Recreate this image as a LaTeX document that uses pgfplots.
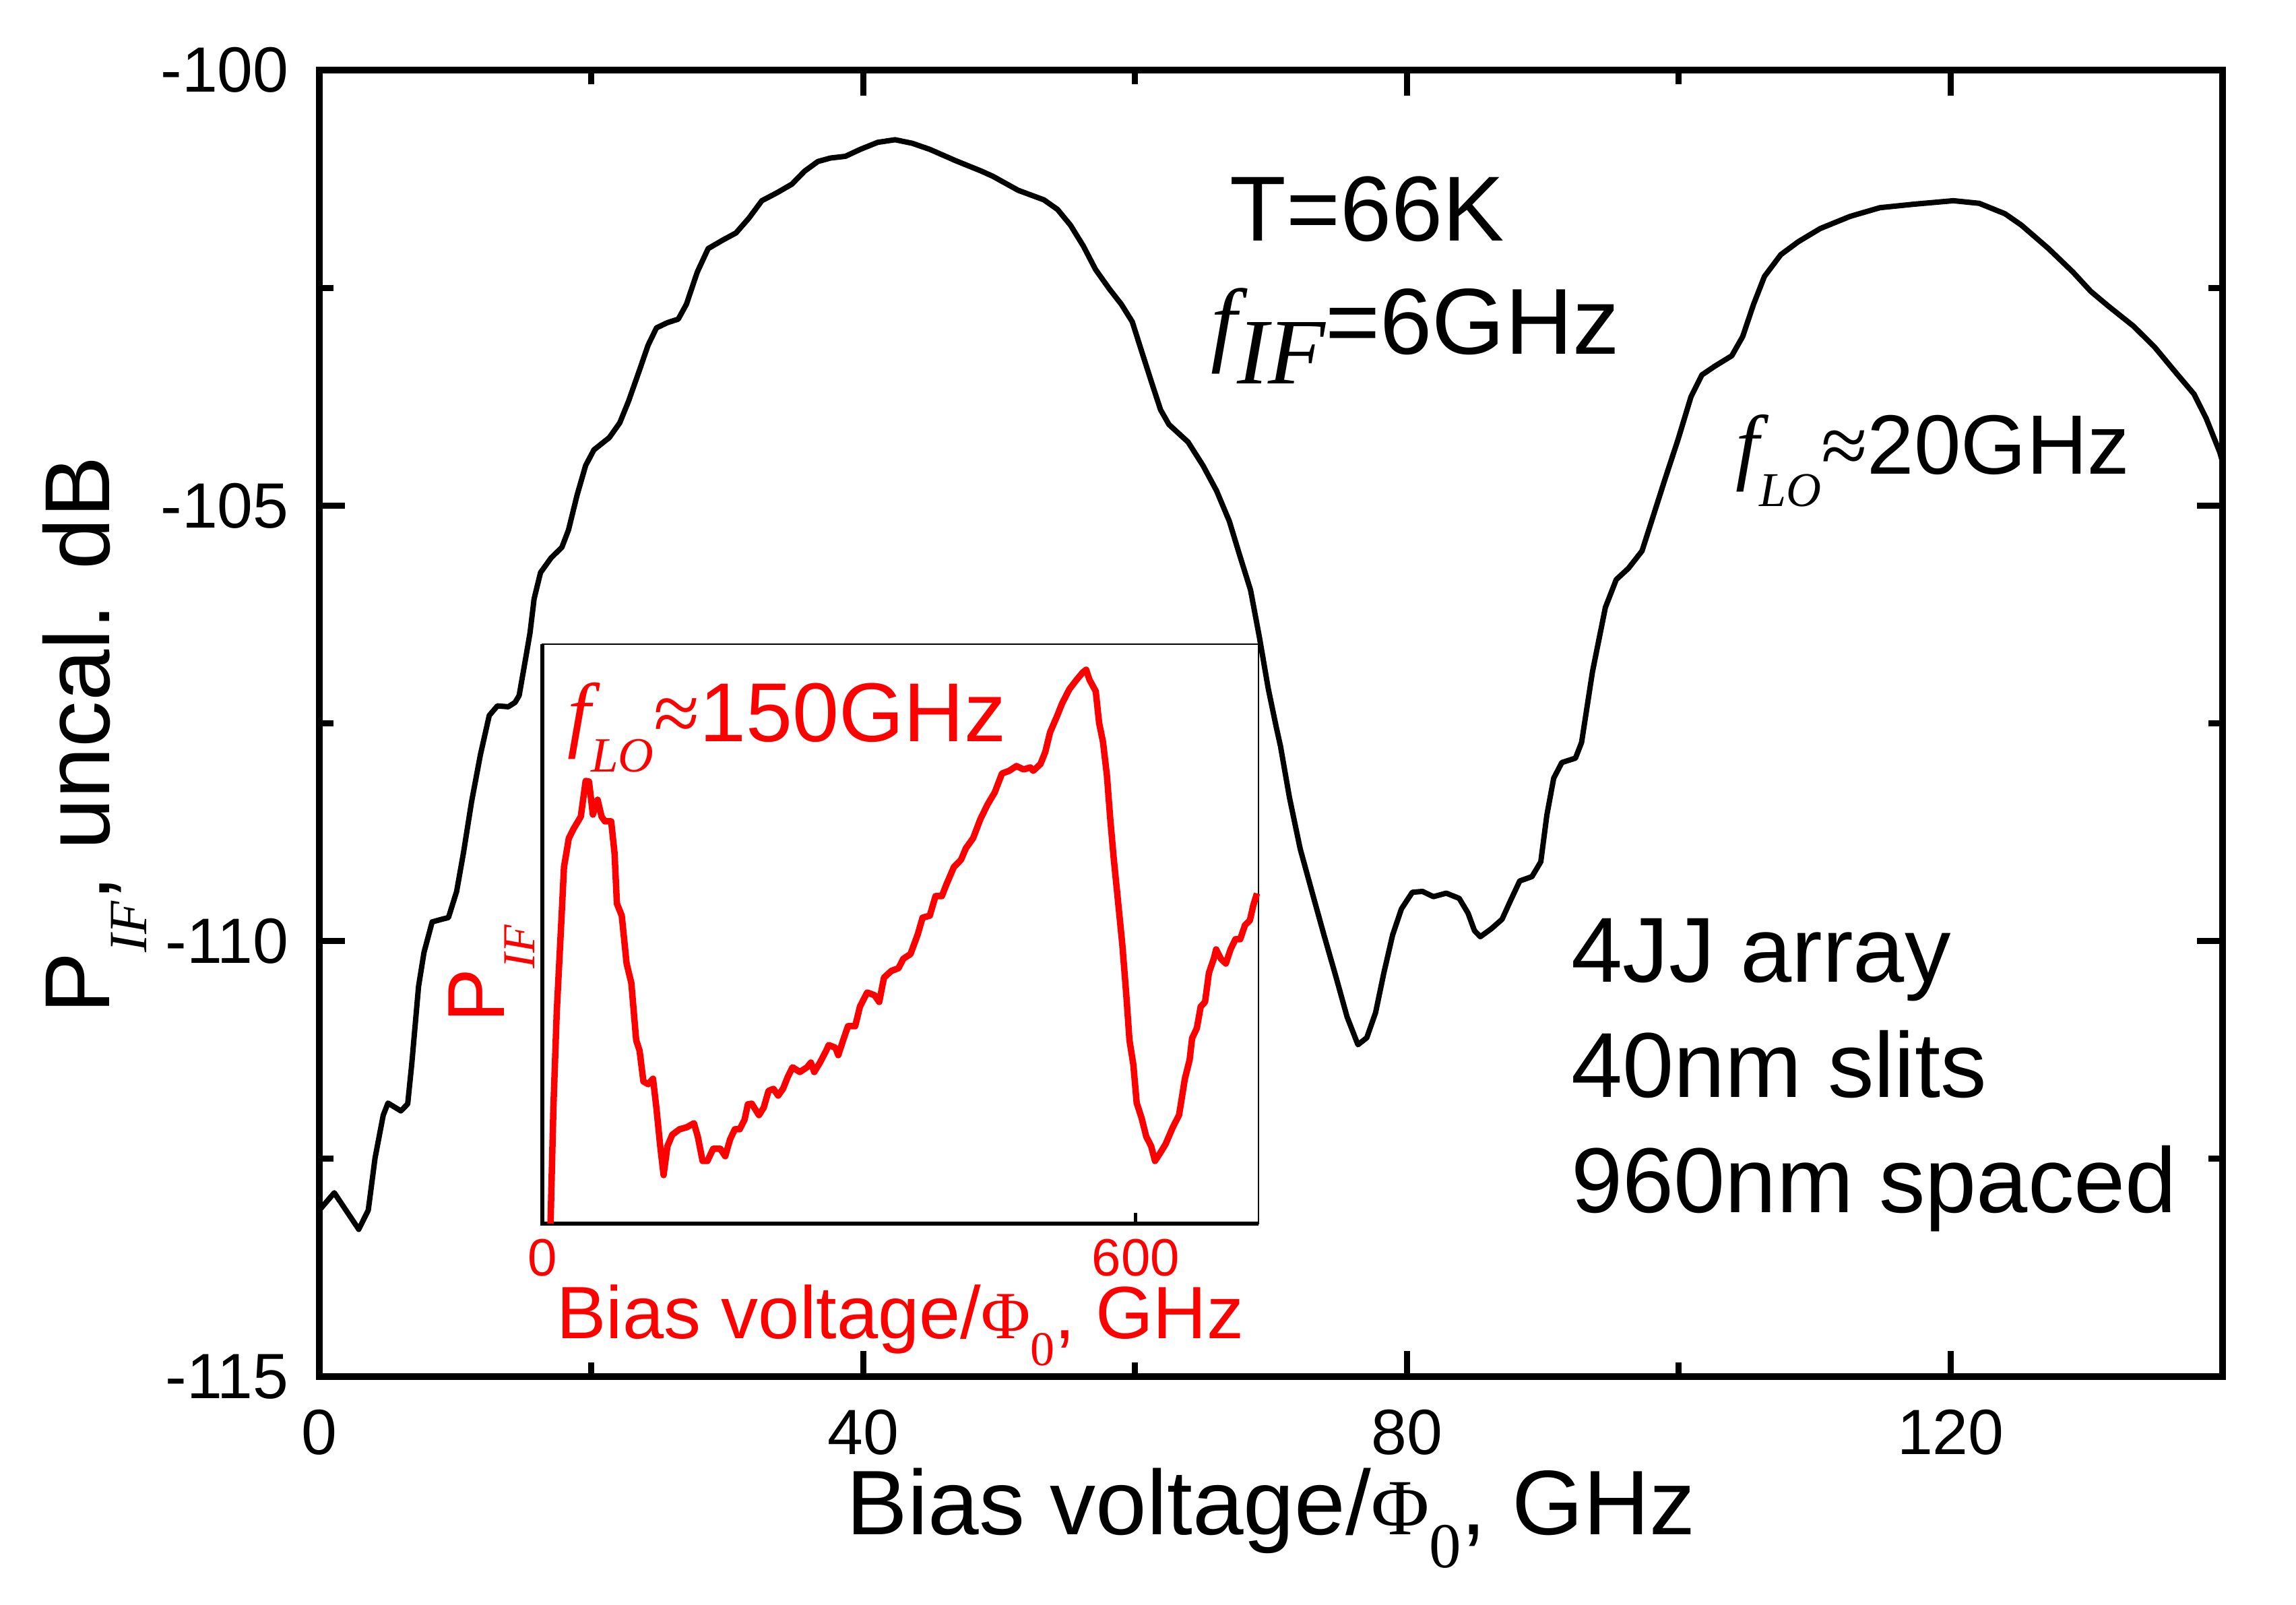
\documentclass[border=0pt]{standalone}
\usepackage{fontspec}
\setmainfont{Liberation Sans}
\newfontfamily\tms{Liberation Serif}
\usepackage{pgfplots}
\pgfplotsset{compat=1.18}
\newcommand{\fs}[1]{\fontsize{#1}{#1}\selectfont}

\begin{document}
\begin{tikzpicture}
\begin{axis}[name=main, scale only axis, width=282.5pt, height=193.9pt,
  xmin=0, xmax=140, ymin=-115, ymax=-100,
  xtick={0,40,80,120}, xticklabels={0,40,80,120},
  minor xtick={20,60,100,140},
  ytick={-115,-110,-105,-100}, yticklabels={-115,-110,-105,-100},
  minor ytick={-112.5,-107.5,-102.5},
  major tick length=3.8pt, minor tick length=2.1pt,
  tick style={line width=0.9pt, black},
  axis line style={line width=0.95pt},
  tick label style={font=\fs{9.5}},
  xticklabel shift=1.4pt, yticklabel shift=1.0pt,
  xlabel={Bias voltage/{\tms\fs{11.8}Φ}\raisebox{-4.9pt}{\tms\fs{9.5}0}, GHz},
  ylabel={P\raisebox{-5.5pt}{\tms\itshape\fs{8}IF}, uncal. dB},
  xlabel style={font=\fs{13.6}, at={(axis description cs:0.5,-0.1207)}, anchor=base},
  ylabel style={font=\fs{13.7}, at={(axis description cs:-0.1104,0.491)}, anchor=base},
]
\addplot[black, line width=0.8pt, line join=round] coordinates {
(0,-113.09) (1.1,-112.89) (2.9,-113.31) (3.6,-113.09) (4.1,-112.49) (4.7,-112.0) (5.05,-111.86) (6.0,-111.95) (6.5,-111.87) (6.8,-111.41) (7.3,-110.52) (7.7,-110.13) (8.3,-109.78) (9.0,-109.75) (9.5,-109.73) (10.1,-109.43) (10.6,-108.99) (11.2,-108.40) (11.85,-107.86) (12.5,-107.41) (13.1,-107.30) (13.9,-107.31) (14.4,-107.26)
(14.7,-107.18) (15.17,-106.76) (15.5,-106.46) (15.8,-106.07) (16.27,-105.77) (17.05,-105.6) (17.84,-105.48) (18.33,-105.28) (18.96,-104.88) (19.59,-104.54) (20.2,-104.36) (21.33,-104.22) (22.1,-104.05) (22.75,-103.8) (23.54,-103.45) (24.18,-103.16) (24.8,-102.96) (25.6,-102.9) (26.4,-102.86) (27.0,-102.69) (27.8,-102.32) (28.6,-102.05) (29.7,-101.95) (30.65,-101.87) (31.6,-101.70) (32.55,-101.50) (33.65,-101.41) (34.76,-101.31) (35.7,-101.16) (36.67,-101.05) (37.6,-101.01) (38.7,-100.99) (39.8,-100.91) (41.07,-100.83) (42.35,-100.80) (43.6,-100.84) (44.9,-100.91) (46.8,-101.04) (48.7,-101.16) (49.55,-101.22)
(51.4,-101.38) (53.3,-101.49) (54.3,-101.60) (55.25,-101.78) (56.2,-102.02) (57.1,-102.29) (58.1,-102.51) (59.0,-102.69) (59.8,-102.89) (60.45,-103.21) (61.25,-103.60) (61.88,-103.90) (62.5,-104.07) (63.9,-104.27) (65.0,-104.54) (66.0,-104.83) (66.94,-105.18) (67.7,-105.57) (68.5,-105.97) (69.15,-106.51) (69.8,-107.10) (70.4,-107.55) (70.7,-107.76)
(71.36,-108.35) (72.15,-108.94) (73.1,-109.48) (73.9,-109.93) (74.8,-110.42) (75.6,-110.87) (76.4,-111.19) (77.05,-111.11) (77.7,-110.82) (78.3,-110.37) (78.95,-109.93) (79.6,-109.63) (80.4,-109.44) (81.15,-109.43) (81.95,-109.49) (82.9,-109.45) (83.85,-109.51) (84.5,-109.68) (84.97,-109.88) (85.4,-109.95) (86.2,-109.86) (87.0,-109.75) (87.64,-109.53) (88.3,-109.31) (89.2,-109.26) (89.85,-109.09) (90.3,-108.55) (90.8,-108.13) (91.4,-107.95) (92.4,-107.90) (92.85,-107.72)
(93.65,-106.91) (94.6,-106.17) (95.4,-105.85) (96.3,-105.72) (97.3,-105.52) (98.1,-105.13) (99.0,-104.69) (99.95,-104.24) (100.9,-103.75) (101.7,-103.5) (102.65,-103.40) (103.9,-103.28) (104.7,-103.06) (105.5,-102.69) (106.3,-102.37) (107.5,-102.12) (108.8,-101.97) (110.4,-101.82) (112.6,-101.68) (114.8,-101.58) (117.3,-101.54) (120.2,-101.50) (122.1,-101.53) (124.0,-101.65) (125.2,-101.78) (127.2,-102.05) (129.0,-102.32) (130.3,-102.54) (131.6,-102.71) (133.45,-102.94) (135.0,-103.18) (136.6,-103.48) (137.9,-103.72) (138.8,-104.0) (139.8,-104.39) (140,-104.5)
};
\node[anchor=base west, inner sep=0, font=\fs{13.7}] at (axis cs:66.9,-101.96) {T=66K};
\node[anchor=base west, inner sep=0, font=\fs{13.9}] at (axis cs:65.5,-103.26) {{\tms\itshape f}\raisebox{-4.4pt}{\tms\itshape IF}=6GHz};
\node[anchor=base west, inner sep=0, font=\fs{12.5}] at (axis cs:104.1,-104.64) {{\tms\itshape f}\raisebox{-4.8pt}{\tms\itshape\fs{7.2}LO}{\tms ≈}20GHz};
\node[anchor=base west, inner sep=0, font=\fs{13.7}] at (axis cs:92.0,-110.47) {4JJ array};
\node[anchor=base west, inner sep=0, font=\fs{13.7}] at (axis cs:92.0,-111.79) {40nm slits};
\node[anchor=base west, inner sep=0, font=\fs{13.7}] at (axis cs:92.0,-113.12) {960nm spaced};
\end{axis}

\begin{axis}[name=inset, at={(main.south west)}, anchor=south west, xshift=33.1pt, yshift=22.7pt,
  scale only axis, width=106.3pt, height=86pt, clip=false,
  xmin=0, xmax=724, ymin=0, ymax=86,
  xtick={0,600}, xticklabels={0,600}, ytick=\empty, xtick pos=left,
  major tick length=1.6pt, tick style={line width=0.5pt, black},
  axis line style={line width=0.25pt},
  axis background/.style={fill=white},
  tick label style={font=\fs{7.8}, red},
  xticklabel shift=-1.2pt,
  xlabel={Bias voltage/{\tms\fs{10}Φ}\raisebox{-4pt}{\tms\fs{7.2}0}, GHz},
  xlabel style={font=\fs{11}, red, at={(axis description cs:0.5,-0.1977)}, anchor=base},
  ylabel={P\raisebox{-4.5pt}{\tms\itshape\fs{6.8}IF}},
  ylabel style={font=\fs{12}, red, at={(axis description cs:-0.0536,0.431)}, anchor=base},
]
\draw[line width=0.6pt] (rel axis cs:0,1) -- (rel axis cs:0,0) -- (rel axis cs:1,0);
\addplot[red, line width=0.95pt, line join=round] coordinates {
(8.3,0) (11.2,17.2) (14.6,31.5) (19.5,45.7) (21.9,52.9) (26.8,57.2) (31.6,58.6) (38.9,60.4) (43.8,65.7) (47.2,65.6) (51.1,60.7) (55.9,62.9) (59.9,60.4) (63.3,59.7) (69.6,59.7) (73.0,55.0) (75.4,47.5) (80.3,45.7) (85.2,38.6) (90.0,35.7) (94.9,27.2) (98.3,25.7) (102.2,21.1) (107.0,20.7) (111.9,21.5) (115.3,17.2) (119.2,11.5) (122.6,7.2) (126.5,11.5) (131.4,13.2) (138.7,14.0) (146.0,14.3) (153.3,14.9) (157.2,12.9) (162.0,9.3) (166.9,9.3) (172.7,11.1) (180.0,11.1) (184.9,10.0) (189.8,12.5) (194.6,14.0) (199.5,14.0) (204.4,15.4) (207.8,17.7) (211.7,17.8) (219.0,16.1) (223.8,17.2) (228.7,19.7) (233.6,20.0) (238.4,19.0) (243.3,20.0) (248.2,21.8) (253.0,23.2) (260.3,22.5) (267.6,23.2) (271.5,23.9) (274.9,22.5) (280.7,23.9) (287.1,25.7) (289.5,26.5) (296.3,26.1) (299.2,25.0) (304.1,27.2) (309.0,29.3) (316.3,29.3) (321.1,32.2) (328.4,34.3) (335.8,33.9) (340.6,32.9) (345.4,36.5) (352.8,37.5) (360.1,37.9) (364.9,39.3) (372.2,40.0) (379.5,42.9) (384.4,45.4) (391.7,45.7) (397.5,48.6) (403.9,48.6) (408.7,50.4) (416.0,52.9) (423.3,54.0) (428.2,55.7) (435.5,57.2) (442.8,60.0) (450.1,62.2) (457.4,64.0) (464.7,66.8) (472.0,67.2) (479.3,67.9) (486.6,67.4) (493.4,67.7) (496.3,67.2) (503.6,68.2) (508.5,70.0) (513.3,72.9) (520.6,75.4) (525.5,77.2) (532.8,79.3) (540.1,80.7) (546.4,81.8) (549.8,82.2) (553.2,80.7) (559.5,79.0) (562.9,74.3) (566.8,71.5) (570.8,66.5) (574.2,60.0) (577.6,54.3) (581.5,48.6) (586.3,41.5) (590.2,34.3) (593.6,27.2) (597.5,23.6) (600.9,17.9) (605.8,15.7) (610.6,12.9) (615.5,11.5) (619.4,9.3) (624.3,10.4) (630.1,11.8) (637.4,14.3) (643.7,16.1) (645.7,17.9) (649.6,21.5) (654.4,24.3) (656.9,27.5) (661.7,29.0) (665.6,32.2) (670.0,32.9) (673.9,37.2) (678.8,39.3) (681.2,40.7) (686.0,39.3) (691.0,38.6) (695.8,40.7) (700.7,42.2) (705.5,42.2) (710.4,44.3) (715.3,45.0) (718.7,47.2) (722.5,49.0)
};
\node[anchor=base west, inner sep=0, font=\fs{12.4}, red] at (axis cs:24.3,71.5) {{\tms\itshape f}\raisebox{-4.5pt}{\tms\itshape\fs{7.3}LO}{\tms ≈}150GHz};
\end{axis}
\pgfresetboundingbox
\path ([shift={(-47.4pt,-33.9pt)}]main.south west) rectangle ([shift={(10.9pt,10.4pt)}]main.north east);
\end{tikzpicture}
\end{document}
